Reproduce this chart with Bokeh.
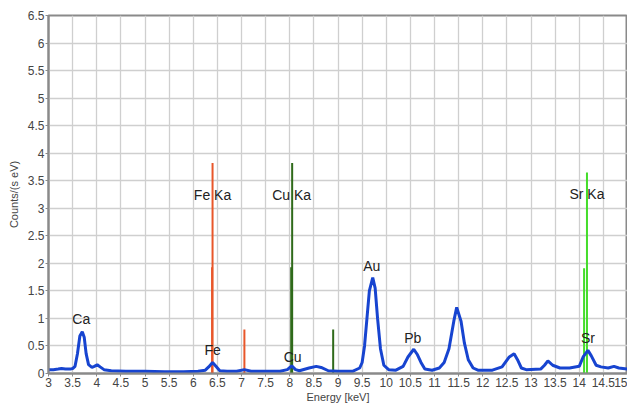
from bokeh.plotting import figure
from bokeh.models import FixedTicker, ColumnDataSource, Range1d
from bokeh.embed import file_html
from bokeh.resources import INLINE

# Spectrum (energy keV, counts/(s eV))
energy = [3.0, 3.1, 3.2, 3.27, 3.35, 3.45, 3.5, 3.55, 3.6, 3.65, 3.7, 3.74, 3.78, 3.83,
          3.9, 3.95, 4.01, 4.07, 4.15, 4.3, 4.6, 5.0, 5.4, 5.8, 6.1, 6.25, 6.32, 6.4,
          6.47, 6.55, 6.7, 6.9, 7.06, 7.2, 7.5, 7.8, 7.95, 8.04, 8.12, 8.2, 8.4, 8.55,
          8.65, 8.8, 9.0, 9.3, 9.45, 9.5, 9.55, 9.6, 9.65, 9.72, 9.77, 9.82, 9.88, 9.95,
          10.05, 10.2, 10.35, 10.45, 10.57, 10.64, 10.72, 10.8, 10.95, 11.1, 11.2, 11.3,
          11.4, 11.46, 11.55, 11.62, 11.7, 11.8, 11.9, 12.2, 12.4, 12.55, 12.65, 12.72,
          12.8, 12.9, 13.2, 13.28, 13.35, 13.45, 13.6, 13.8, 14.0, 14.08, 14.18, 14.25,
          14.35, 14.45, 14.6, 14.72, 14.82, 15.0]
counts = [0.07, 0.07, 0.08, 0.09, 0.08, 0.08, 0.09, 0.13, 0.36, 0.68, 0.76, 0.66, 0.36, 0.16,
          0.11, 0.13, 0.16, 0.12, 0.07, 0.05, 0.04, 0.04, 0.03, 0.03, 0.04, 0.06, 0.12, 0.2,
          0.13, 0.05, 0.04, 0.04, 0.07, 0.04, 0.04, 0.04, 0.07, 0.14, 0.07, 0.05, 0.1, 0.13,
          0.11, 0.05, 0.04, 0.04, 0.1, 0.2, 0.5, 1.0, 1.5, 1.74, 1.55, 1.0, 0.45, 0.15,
          0.07, 0.06, 0.13, 0.3, 0.44, 0.35, 0.2, 0.08, 0.06, 0.1, 0.2, 0.45,
          0.95, 1.2, 0.95, 0.55, 0.25, 0.1, 0.06, 0.06, 0.12, 0.3, 0.36, 0.25,
          0.1, 0.07, 0.08, 0.15, 0.23, 0.15, 0.1, 0.1, 0.13, 0.3, 0.42, 0.32,
          0.15, 0.12, 0.1, 0.13, 0.1, 0.08]

# Emission line markers
line_energy = [6.40, 6.39, 7.06, 8.05, 8.03, 8.90, 14.16, 14.10]
line_height = [3.82, 1.93, 0.80, 3.82, 1.93, 0.80, 3.65, 1.91]
line_color = ["#e8562a", "#e8562a", "#e8562a", "#2f6a1a", "#2f6a1a", "#2f6a1a", "#44dd2a", "#44dd2a"]

# Labels
label_text = ["Fe Ka", "Cu Ka", "Sr Ka", "Ca", "Fe", "Cu", "Au", "Pb", "Sr"]
label_x = [6.40, 8.04, 14.16, 3.68, 6.40, 8.06, 9.70, 10.55, 14.18]
label_y = [3.24, 3.24, 3.26, 0.99, 0.42, 0.30, 1.96, 0.65, 0.64]

x_ticks = [3 + 0.5 * i for i in range(25)]
x_tick_labels = ["3", "3.5", "4", "4.5", "5", "5.5", "6", "6.5", "7", "7.5", "8", "8.5", "9",
                 "9.5", "10", "10.5", "11", "11.5", "12", "12.5", "13", "13.5", "14", "14.5", "15"]
y_ticks = [0.5 * i for i in range(14)]
y_tick_labels = ["0", "0.5", "1", "1.5", "2", "2.5", "3", "3.5", "4", "4.5", "5", "5.5", "6", "6.5"]

p = figure(width=627, height=405, output_backend="svg", toolbar_location=None,
           x_range=Range1d(3, 15), y_range=Range1d(0, 6.5),
           min_border_left=48, min_border_right=0, min_border_top=15, min_border_bottom=32)

p.background_fill_color = "white"
p.border_fill_color = "white"
p.outline_line_color = "#8a8a8a"
p.outline_line_width = 2

for ax in (p.xaxis[0], p.yaxis[0]):
    ax.axis_line_color = "#8a8a8a"
    ax.axis_line_width = 2
    ax.major_tick_line_color = "#8a8a8a"
    ax.major_tick_out = 3
    ax.major_tick_in = 0
    ax.minor_tick_line_color = None
    ax.major_label_text_font = "Liberation Sans"
    ax.major_label_text_font_size = "12px"
    ax.major_label_text_color = "#444444"
    ax.axis_label_text_font = "Liberation Sans"
    ax.axis_label_text_font_size = "11px"
    ax.axis_label_text_font_style = "normal"
    ax.axis_label_text_color = "#444444"

p.xaxis.ticker = FixedTicker(ticks=x_ticks)
p.yaxis.ticker = FixedTicker(ticks=y_ticks)
p.xaxis.major_label_overrides = {t: l for t, l in zip(x_ticks, x_tick_labels)}
p.yaxis.major_label_overrides = {t: l for t, l in zip(y_ticks, y_tick_labels)}
p.xaxis.axis_label = "Energy [keV]"
p.yaxis.axis_label = "Counts/(s eV)"
p.xaxis.major_label_standoff = 1
p.xaxis.axis_label_standoff = 1
p.yaxis.major_label_standoff = 1
p.yaxis.axis_label_standoff = 5

p.xgrid.ticker = FixedTicker(ticks=x_ticks)
p.ygrid.ticker = FixedTicker(ticks=y_ticks)
p.grid.grid_line_color = "#cfcfcf"
p.grid.grid_line_width = 1.3

src_lines = ColumnDataSource(dict(x=line_energy, y0=[0] * len(line_energy), y1=line_height, c=line_color))
p.segment(x0="x", y0="y0", x1="x", y1="y1", color="c", line_width=2, source=src_lines)

p.line(energy, counts, line_color="#1744d0", line_width=3)

src_lab = ColumnDataSource(dict(x=label_x, y=label_y, t=label_text))
p.text(x="x", y="y", text="t", source=src_lab, text_align="center", text_baseline="middle",
       text_font_size="14px", text_color="#222222", text_font={"value": "Liberation Sans"})

open("out.html", "w").write(file_html(p, INLINE))
